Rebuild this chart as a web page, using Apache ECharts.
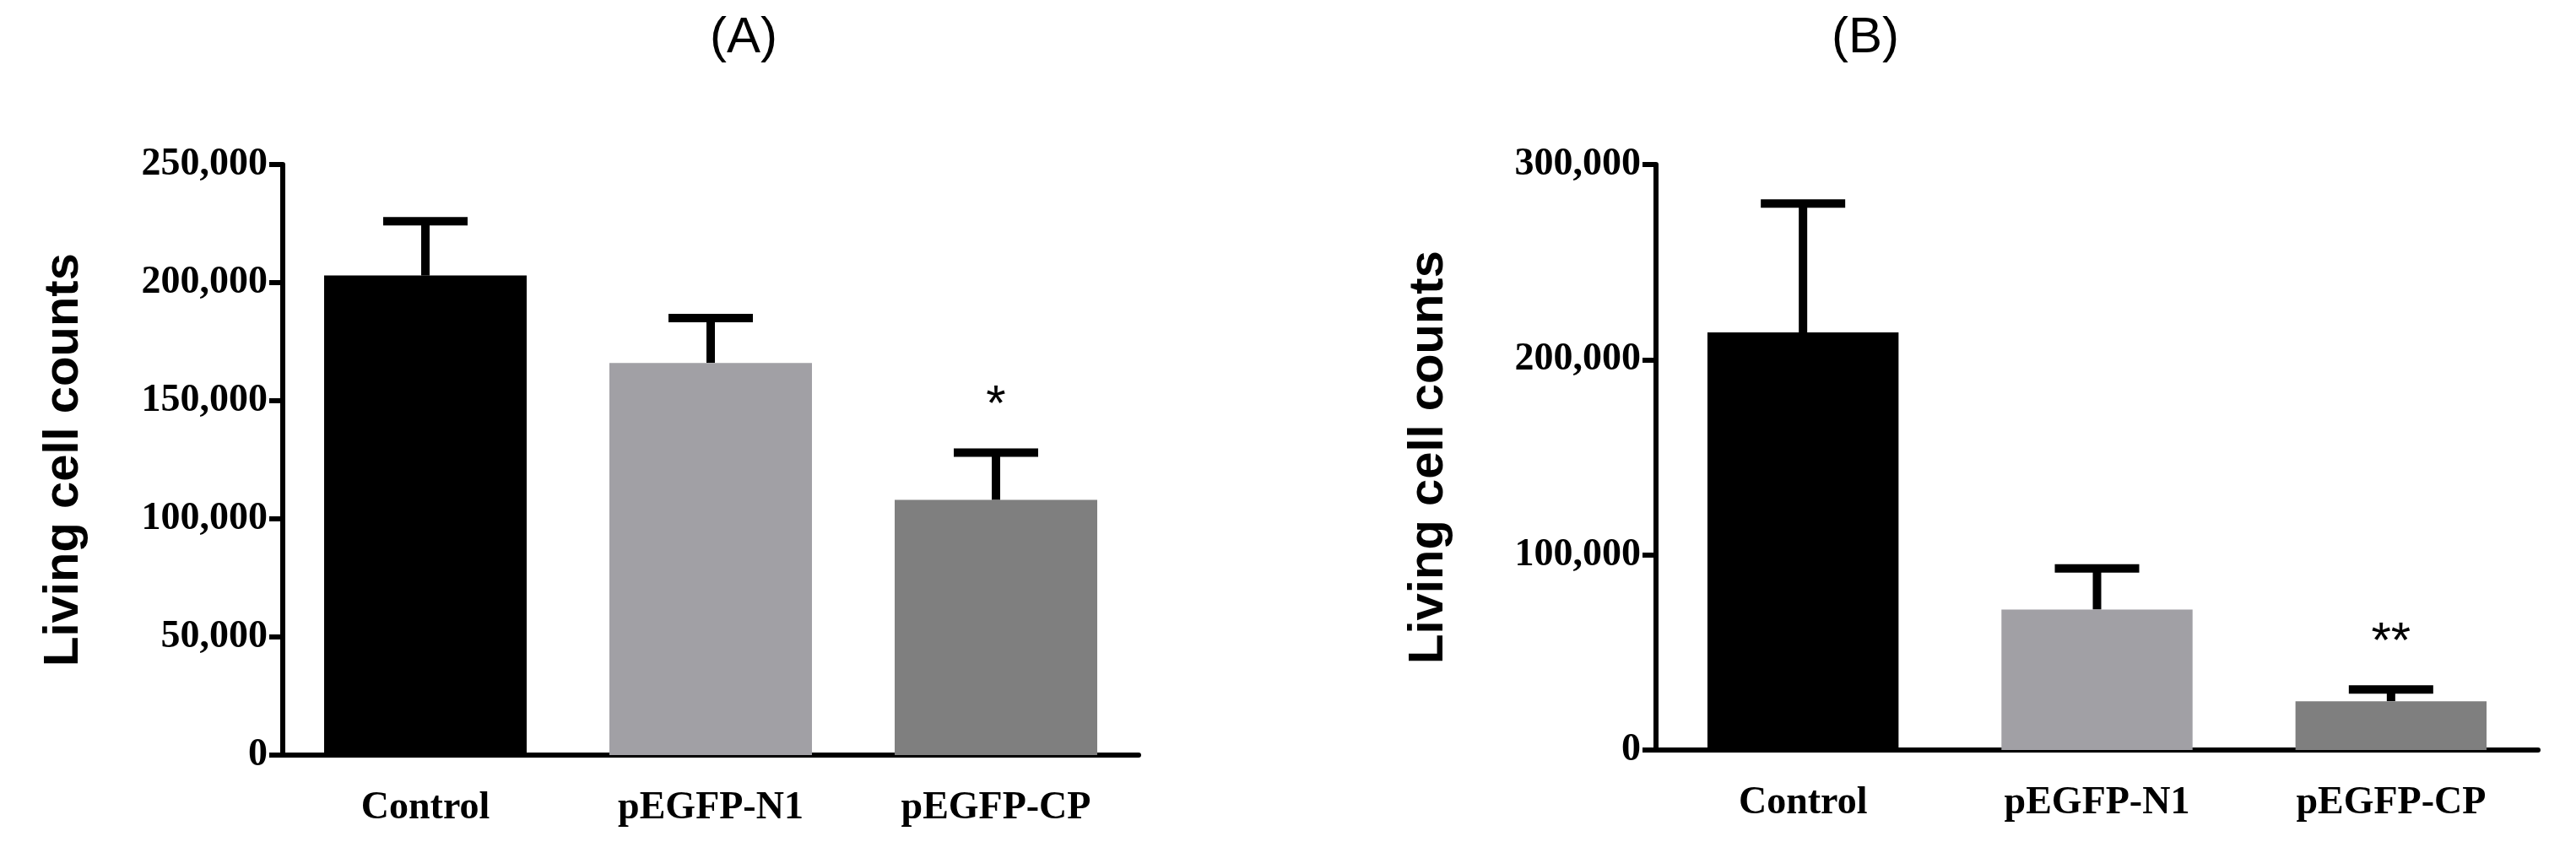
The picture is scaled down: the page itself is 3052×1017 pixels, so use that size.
<!DOCTYPE html>
<html><head><meta charset="utf-8">
<script src="https://cdn.jsdelivr.net/npm/echarts@6/dist/echarts.min.js"></script>
<style>html,body{margin:0;padding:0;background:#fff}#c{width:3052px;height:1017px}</style>
</head><body><div id="c"></div>
<script>
const categories = ['Control', 'pEGFP-N1', 'pEGFP-CP'];
const barColors = ['#000000', '#a1a0a5', '#7f7f7f'];
const valuesA = [203000, 166000, 108000];
const errorTopA = [226000, 185000, 128000];
const signifA = ['', '', '*'];
const valuesB = [214000, 72000, 25000];
const errorTopB = [280000, 93000, 31000];
const signifB = ['', '', '**'];
const titles = ['(A)', '(B)'];

const chart = echarts.init(document.getElementById('c'));
const grids = [
  {left: 335, top: 195, width: 1014, height: 700},
  {left: 1962, top: 195, width: 1045, height: 694}
];
const yMax = [250000, 300000];
const yInt = [50000, 100000];
const fmt = v => v === 0 ? '0' : v.toLocaleString('en-US');

function errSeries(idx, tops, sig) {
  return {
    type: 'custom', xAxisIndex: idx, yAxisIndex: idx, z: 1,
    data: tops.map((t, i) => [i, (idx === 0 ? valuesA : valuesB)[i], t, sig[i]]),
    renderItem: (params, api) => {
      const base = api.coord([api.value(0), api.value(1)]);
      const top = api.coord([api.value(0), api.value(2)]);
      const cap = 50;
      const children = [
        {type: 'line', shape: {x1: base[0], y1: base[1], x2: top[0], y2: top[1]}, style: {stroke: '#000', lineWidth: 10}},
        {type: 'line', shape: {x1: top[0] - cap, y1: top[1], x2: top[0] + cap, y2: top[1]}, style: {stroke: '#000', lineWidth: 10}}
      ];
      const s = sig[params.dataIndex];
      if (s) children.push({type: 'text', style: {text: s, x: top[0], y: top[1] - 55, align: 'center', verticalAlign: 'middle', font: '60px "Liberation Sans"', fill: '#000'}});
      return {type: 'group', children};
    }
  };
}

const xAxes = [0, 1].map(i => ({
  type: 'category', gridIndex: i, data: categories,
  axisLine: {lineStyle: {color: '#000', width: 6}},
  axisTick: {alignWithLabel: true, length: 28, lineStyle: {color: '#000', width: 6}},
  axisLabel: {color: '#000', fontFamily: 'Liberation Serif', fontWeight: 'bold', fontSize: 46, margin: 40}
}));
const yAxes = [0, 1].map(i => ({
  type: 'value', gridIndex: i, min: 0, max: yMax[i], interval: yInt[i],
  name: 'Living cell counts', nameLocation: 'middle', nameGap: i === 0 ? 230 : 240,
  nameTextStyle: {color: '#000', fontFamily: 'Liberation Sans', fontWeight: 'bold', fontSize: 58},
  splitLine: {show: false},
  axisLine: {show: true, lineStyle: {color: '#000', width: 6}},
  axisTick: {show: true, length: 16, lineStyle: {color: '#000', width: 6}},
  axisLabel: {color: '#000', fontFamily: 'Liberation Serif', fontWeight: 'bold', fontSize: 46, margin: 18, formatter: fmt}
}));

chart.setOption({
  animation: false,
  title: [
    {text: titles[0], left: 876, top: 10, textAlign: 'center', textStyle: {fontFamily: 'Liberation Sans', fontWeight: 'normal', fontSize: 60, color: '#000'}},
    {text: titles[1], left: 2205, top: 10, textAlign: 'center', textStyle: {fontFamily: 'Liberation Sans', fontWeight: 'normal', fontSize: 60, color: '#000'}}
  ],
  grid: grids, xAxis: xAxes, yAxis: yAxes,
  series: [
    {type: 'bar', xAxisIndex: 0, yAxisIndex: 0, barWidth: '71%', z: 2,
     data: valuesA.map((v, i) => ({value: v, itemStyle: {color: barColors[i]}}))},
    errSeries(0, errorTopA, signifA),
    {type: 'bar', xAxisIndex: 1, yAxisIndex: 1, barWidth: '65%', z: 2,
     data: valuesB.map((v, i) => ({value: v, itemStyle: {color: barColors[i]}}))},
    errSeries(1, errorTopB, signifB)
  ]
});
</script></body></html>
